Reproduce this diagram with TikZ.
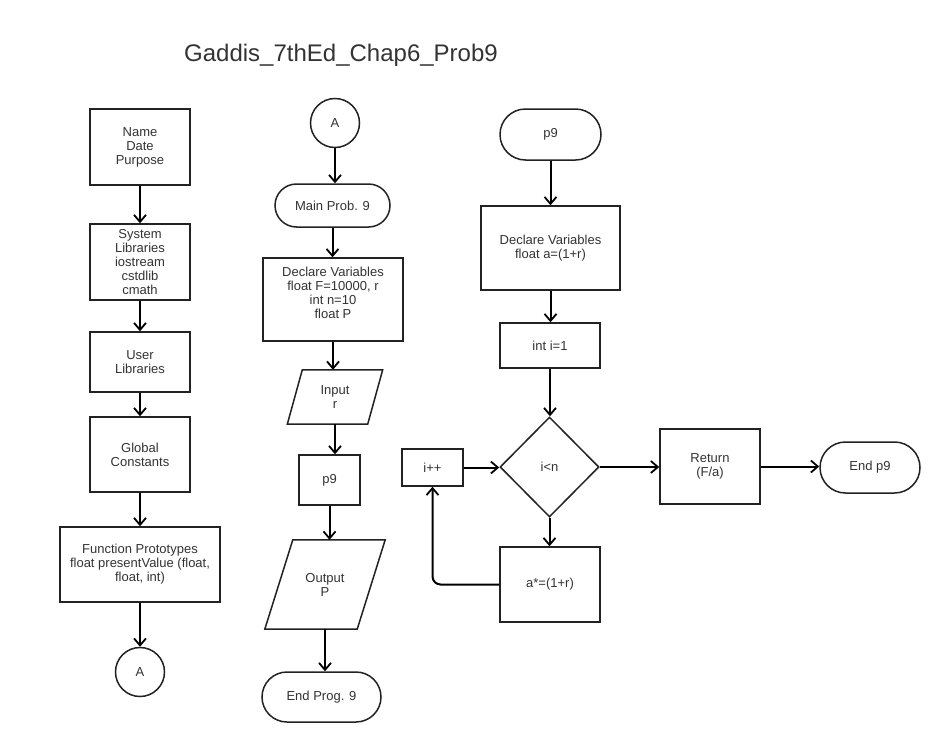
\documentclass[tikz,border=0pt]{standalone}
\usepackage{fontspec}
\setmainfont{Liberation Sans}
\usetikzlibrary{arrows.meta,shapes.geometric,shapes.misc}
\definecolor{ink}{HTML}{333333}
\definecolor{edge}{HTML}{222222}
\tikzset{
  base/.style={font=\fontsize{13}{14}\selectfont, text=ink, align=center, inner sep=0pt},
  box/.style={base, draw=edge, line width=1.5pt, rectangle},
  term/.style={base, draw=edge, line width=1.5pt, rounded rectangle},
  conn/.style={base, draw=edge, line width=1.5pt, circle, minimum size=49pt},
  dec/.style={base, draw=edge, line width=1.5pt, diamond, aspect=1},
  io/.style={base},
  arr/.style={draw=black, line width=2pt, -{Straight Barb[length=7pt,width=12pt,line width=1.8pt]}},
}
\begin{document}
\begin{tikzpicture}[x=1pt,y=-1pt]
\path[use as bounding box, fill=white] (0,0) rectangle (946,742);

% title
\node[font=\fontsize{24}{27}\selectfont, text=ink] (title) at (341,55) {Gaddis\_7thEd\_Chap6\_Prob9};

% program header column
\node[box, minimum width=100pt, minimum height=76pt] (name) at (140,147) {Name\\Date\\Purpose};
\node[box, minimum width=100pt, minimum height=76pt] (syslib) at (140,262) {System\\Libraries\\iostream\\cstdlib\\cmath};
\node[box, minimum width=100pt, minimum height=60pt] (userlib) at (140,362) {User\\Libraries};
\node[box, minimum width=100pt, minimum height=75pt] (global) at (140,454.5) {Global\\Constants};
\node[box, minimum width=160pt, minimum height=75pt] (proto) at (140,564.5) {Function Prototypes\\float presentValue (float,\\float, int)};
\node[conn] (conA) at (140,672) {A};

\draw[arr] (name) -- (syslib);
\draw[arr] (syslib) -- (userlib);
\draw[arr] (userlib) -- (global);
\draw[arr] (global) -- (proto);
\draw[arr] (proto) -- (conA);

% main program column
\node[conn] (conB) at (335,123) {A};
\node[term, minimum width=115pt, minimum height=43pt] (main) at (332.5,205.5) {Main Prob. 9};
\node[box, minimum width=140pt, minimum height=83pt] (declM) at (333,299.5) {Declare Variables\\float F=10000, r\\int n=10\\float P\\\mbox{}};
\node[io, minimum width=95pt, minimum height=54pt] (input) at (335,397) {Input\\r};
\draw[edge, line width=1.5pt] ([xshift=15pt]input.north west) -- (input.north east)
  -- ([xshift=-15pt]input.south east) -- (input.south west) -- cycle;
\node[box, minimum width=61pt, minimum height=50pt] (call) at (329.5,480) {p9};
\node[io, minimum width=120pt, minimum height=89pt] (output) at (325,584.5) {Output\\P};
\draw[edge, line width=1.5pt] ([xshift=28pt]output.north west) -- (output.north east)
  -- ([xshift=-28pt]output.south east) -- (output.south west) -- cycle;
\node[term, minimum width=119pt, minimum height=50pt] (endM) at (321.5,697) {End Prog. 9};

\draw[arr] (conB.south) -- (conB.south |- main.north);
\draw[arr] (main.south) -- (main.south |- declM.north);
\draw[arr] (declM.south) -- (declM.south |- input.north);
\draw[arr] (input.south) -- (input.south |- call.north);
\draw[arr] (call.south) -- (call.south |- output.north);
\draw[arr] (output.south) -- (output.south |- endM.north);

% function p9 column
\node[term, minimum width=101pt, minimum height=51pt] (p9) at (550.5,134.5) {p9};
\node[box, minimum width=139pt, minimum height=84pt] (declP) at (550.5,248) {Declare Variables\\float a=(1+r)};
\node[box, minimum width=100pt, minimum height=45pt] (init) at (550,345.5) {int i=1};
\node[dec, minimum width=99pt, minimum height=100pt] (cond) at (549.5,467) {i<n};
\node[box, minimum width=61pt, minimum height=37pt] (inc) at (432.5,467.5) {i++};
\node[box, minimum width=100pt, minimum height=75pt] (upd) at (550,584.5) {a*=(1+r)};
\node[box, minimum width=100pt, minimum height=75pt] (ret) at (710,466.5) {Return\\(F/a)};
\node[term, minimum width=100pt, minimum height=51pt] (endP) at (870,467.5) {End p9};

\draw[arr] (p9.south) -- (p9.south |- declP.north);
\draw[arr] (declP.south) -- (declP.south |- init.north);
\draw[arr] (init.south) -- (init.south |- cond.north);
\draw[arr] (cond.south) -- (cond.south |- upd.north);
\draw[arr] (cond.east) -- (cond.east -| ret.west);
\draw[arr] (ret.east) -- (ret.east -| endP.west);
\draw[arr] (inc.east) -- (inc.east -| cond.west);
\draw[arr, rounded corners=8pt] (upd.west) -| (inc.south);
\end{tikzpicture}
\end{document}
